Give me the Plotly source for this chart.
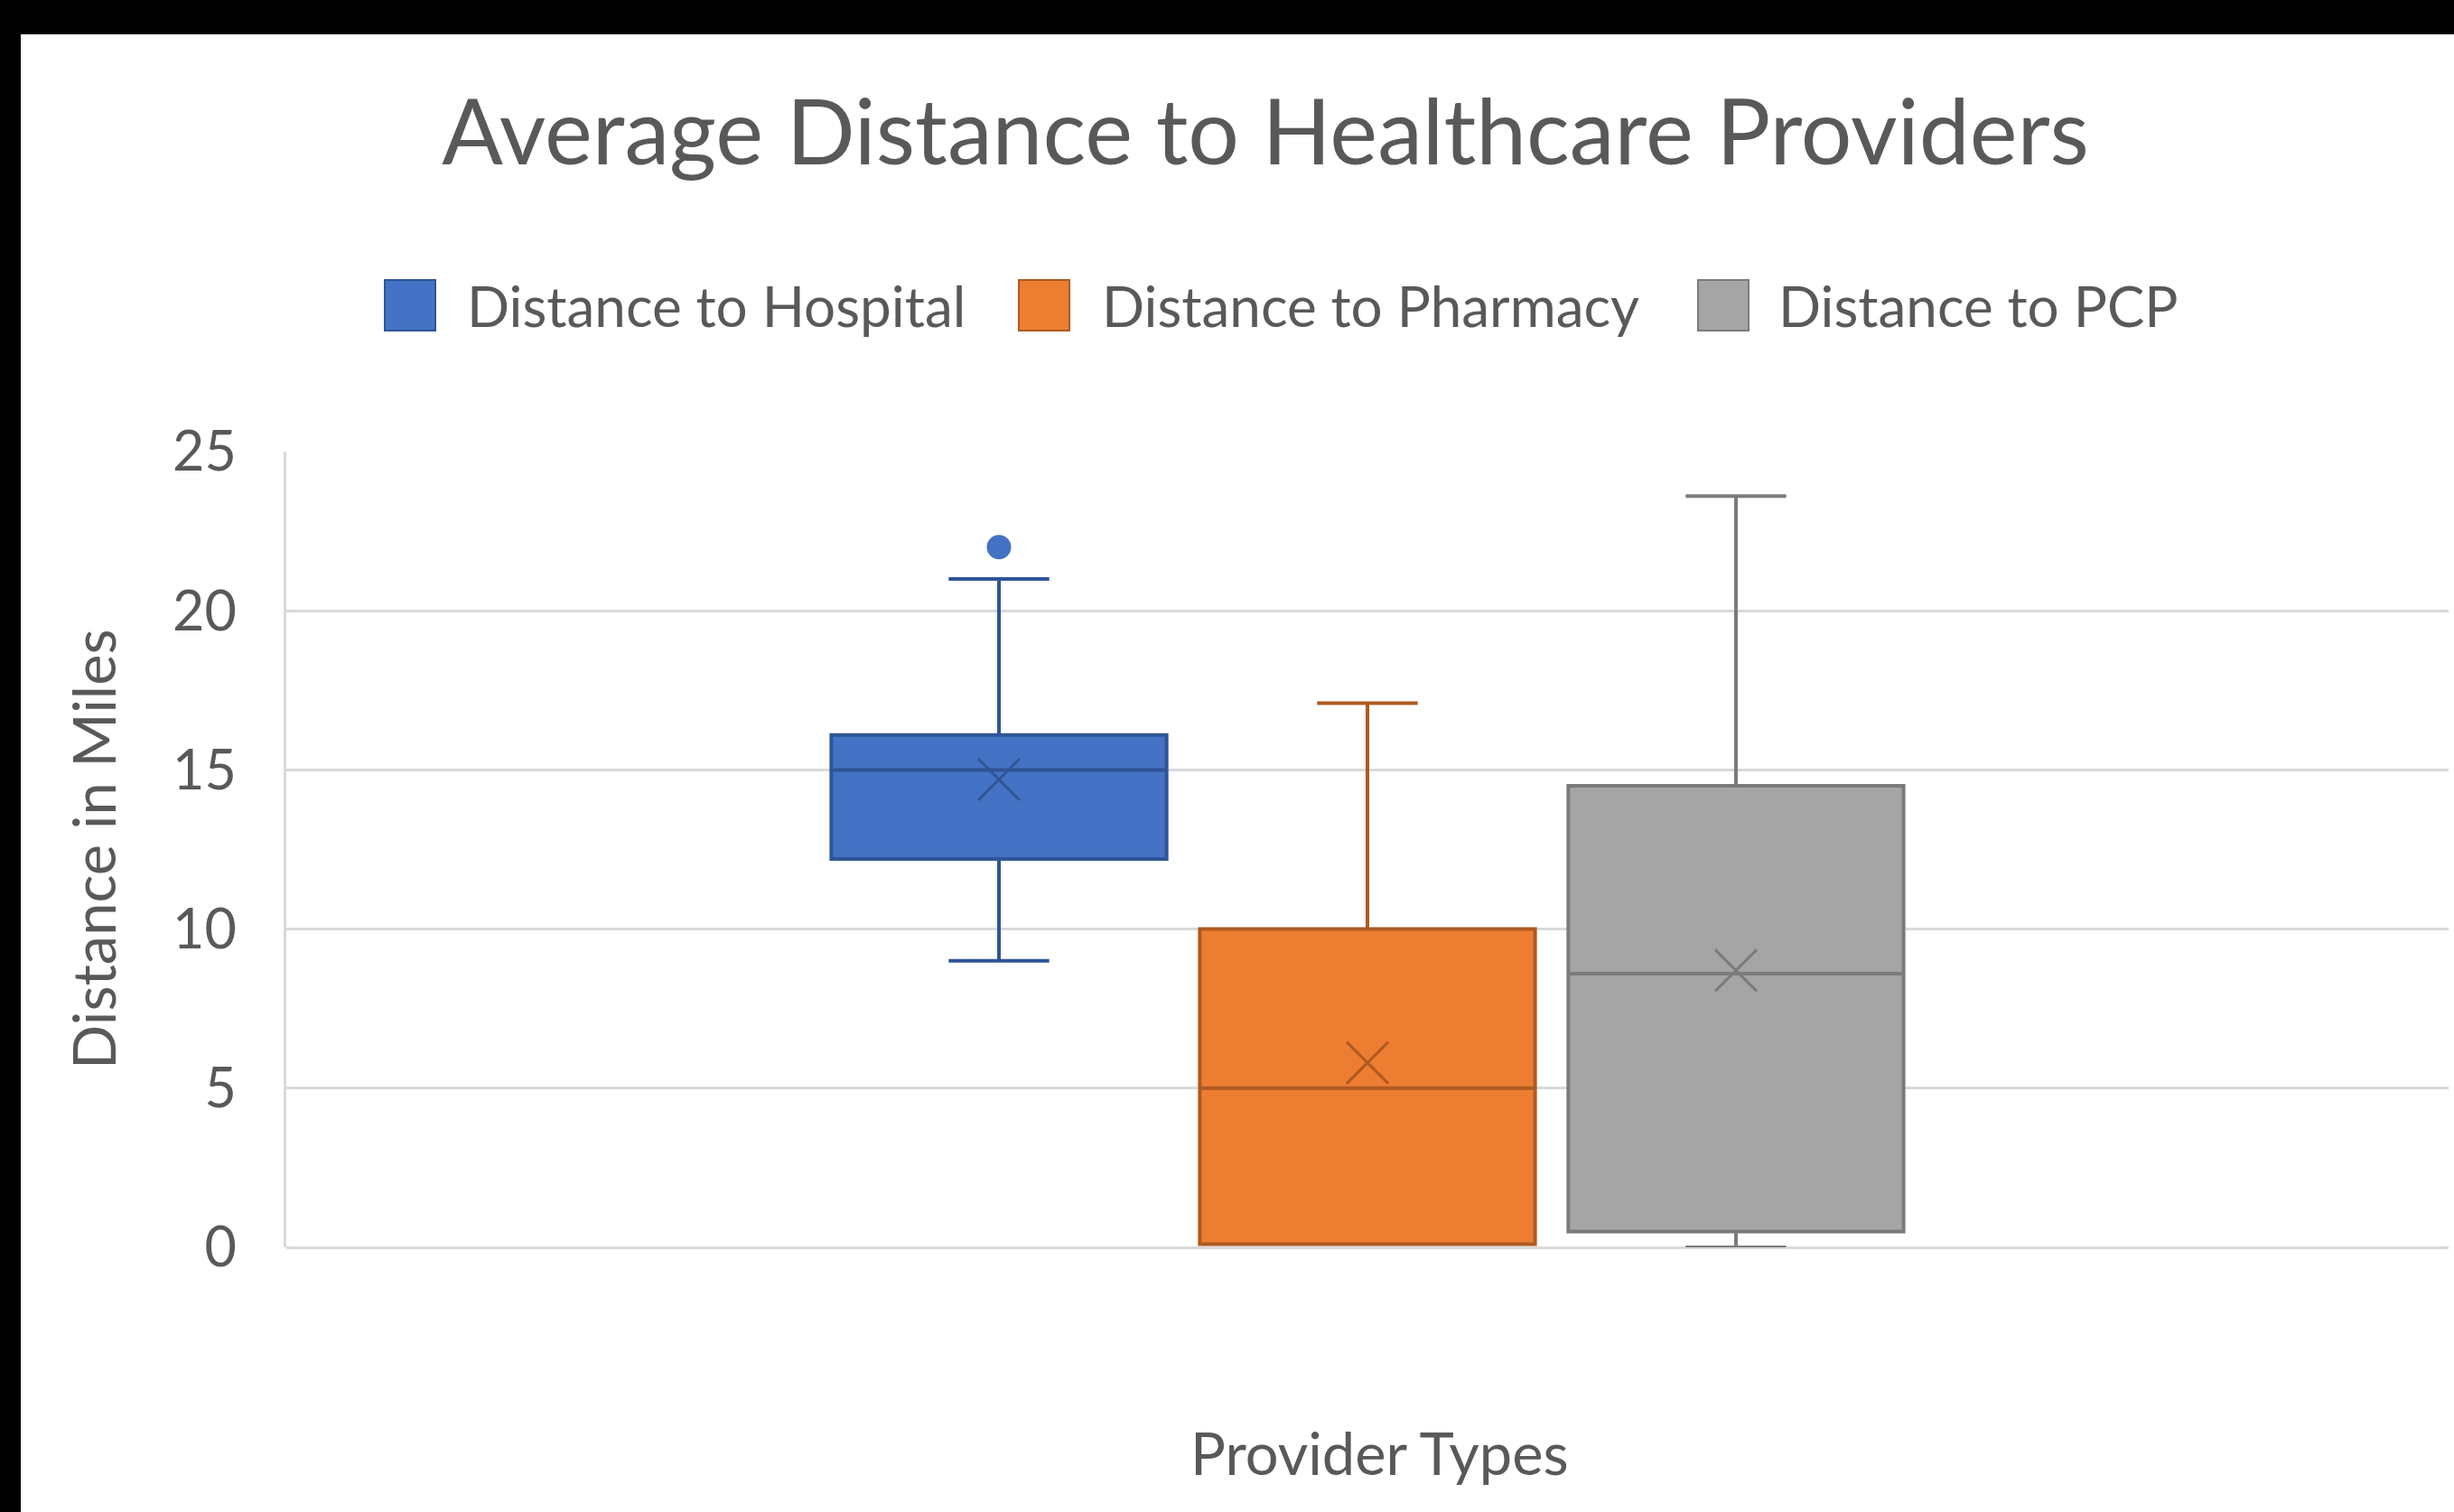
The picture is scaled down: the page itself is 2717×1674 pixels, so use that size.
import plotly.graph_objects as go

# ---- data ----
series = ["Distance to Hospital", "Distance to Pharmacy", "Distance to PCP"]
q1 = [12.2, 0.1, 0.5]
median = [15.0, 5.0, 8.6]
q3 = [16.1, 10.0, 14.5]
lowerfence = [9.0, 0.1, 0.0]
upperfence = [21.0, 17.1, 23.6]
mean = [14.7, 5.8, 8.7]
outliers = [[22.0], [], []]
y_ticks = [0, 5, 10, 15, 20, 25]

fill_colors = ["#4472C4", "#ED7D31", "#A5A5A5"]
line_colors = ["#2F5597", "#AE5A21", "#7B7B7B"]

TITLE = "Average Distance to Healthcare Providers"
Y_TITLE = "Distance in Miles"
X_TITLE = "Provider Types"

# ---- layout geometry (pixels) ----
W, H = 2717, 1674
ML, MR, MT, MB = 317, 6, 500, 293
PW = W - ML - MR
PH = H - MT - MB
PB = H - MB


def px2x(px):
    return (px - ML) / PW


def py2y(py):
    return (PB - py) / PH


FONT = "Lato"
TXT = "#595959"
GRID = "#D9D9D9"

fig = go.Figure()

for i, name in enumerate(series):
    fig.add_trace(go.Box(
        name=name,
        x=[name],
        q1=[q1[i]], median=[median[i]], q3=[q3[i]],
        lowerfence=[lowerfence[i]], upperfence=[upperfence[i]],
        boxpoints=False,
        width=0.91,
        whiskerwidth=0.30,
        fillcolor=fill_colors[i],
        line=dict(color=line_colors[i], width=4),
        showlegend=False,
        hoverinfo="skip",
    ))
    # mean marker (X)
    fig.add_trace(go.Scatter(
        x=[name], y=[mean[i]], mode="markers",
        marker=dict(symbol="x-thin", size=46,
                    line=dict(color=line_colors[i], width=3)),
        showlegend=False, hoverinfo="skip",
    ))
    if outliers[i]:
        fig.add_trace(go.Scatter(
            x=[name] * len(outliers[i]), y=outliers[i], mode="markers",
            marker=dict(symbol="circle", size=27, color=fill_colors[i],
                        line=dict(width=0)),
            showlegend=False, hoverinfo="skip",
        ))

shapes = []
annotations = []

# custom legend (large square swatches like the original)
leg_sq_left = [426, 1128, 1880]
leg_txt_left = [515, 1218, 1967]
SQ = 56
LEG_CY = 338
for i, name in enumerate(series):
    shapes.append(dict(
        type="rect", xref="paper", yref="paper",
        x0=px2x(leg_sq_left[i]), x1=px2x(leg_sq_left[i] + SQ),
        y0=py2y(LEG_CY - SQ / 2), y1=py2y(LEG_CY + SQ / 2),
        fillcolor=fill_colors[i], line=dict(color=line_colors[i], width=2),
        layer="above",
    ))
    annotations.append(dict(
        text=name, xref="paper", yref="paper",
        x=px2x(leg_txt_left[i]), y=py2y(LEG_CY),
        xanchor="left", yanchor="middle", showarrow=False,
        font=dict(family=FONT, size=62, color=TXT),
    ))

# axis titles
annotations.append(dict(
    text=Y_TITLE, xref="paper", yref="paper",
    x=px2x(103), y=py2y(940), textangle=-90,
    xanchor="center", yanchor="middle", showarrow=False,
    font=dict(family=FONT, size=65, color=TXT),
))
annotations.append(dict(
    text=X_TITLE, xref="paper", yref="paper",
    x=px2x(1527), y=py2y(1608),
    xanchor="center", yanchor="middle", showarrow=False,
    font=dict(family=FONT, size=65, color=TXT),
))

# black screenshot borders
shapes.append(dict(type="rect", xref="paper", yref="paper",
                   x0=px2x(0), x1=px2x(W), y0=py2y(0), y1=py2y(38),
                   fillcolor="black", line=dict(width=0), layer="above"))
shapes.append(dict(type="rect", xref="paper", yref="paper",
                   x0=px2x(0), x1=px2x(23), y0=py2y(0), y1=py2y(H),
                   fillcolor="black", line=dict(width=0), layer="above"))

fig.update_layout(
    width=W, height=H,
    margin=dict(l=ML, r=MR, t=MT, b=MB, autoexpand=False),
    paper_bgcolor="white",
    plot_bgcolor="white",
    boxmode="overlay",
    title=dict(text=TITLE, x=1401 / W, y=1 - 147 / H,
               xanchor="center", yanchor="middle",
               font=dict(family=FONT, size=100, color=TXT)),
    shapes=shapes,
    annotations=annotations,
    showlegend=False,
    xaxis=dict(type="category", categoryorder="array", categoryarray=series,
               range=[-1.934, 3.934], showticklabels=False,
               showgrid=False, zeroline=False, showline=False, ticks=""),
    yaxis=dict(range=[0, 25], tickvals=y_ticks,
               tickfont=dict(family=FONT, size=61, color=TXT),
               showgrid=True, gridcolor=GRID, gridwidth=3,
               zeroline=True, zerolinecolor=GRID, zerolinewidth=3,
               showline=True, linecolor=GRID, linewidth=3,
               ticks="", ticklabelstandoff=40),
)

fig.write_html(
    "out.html",
    config={"displayModeBar": False},
    post_script="document.body.style.margin='0';document.body.style.overflow='hidden';",
)
